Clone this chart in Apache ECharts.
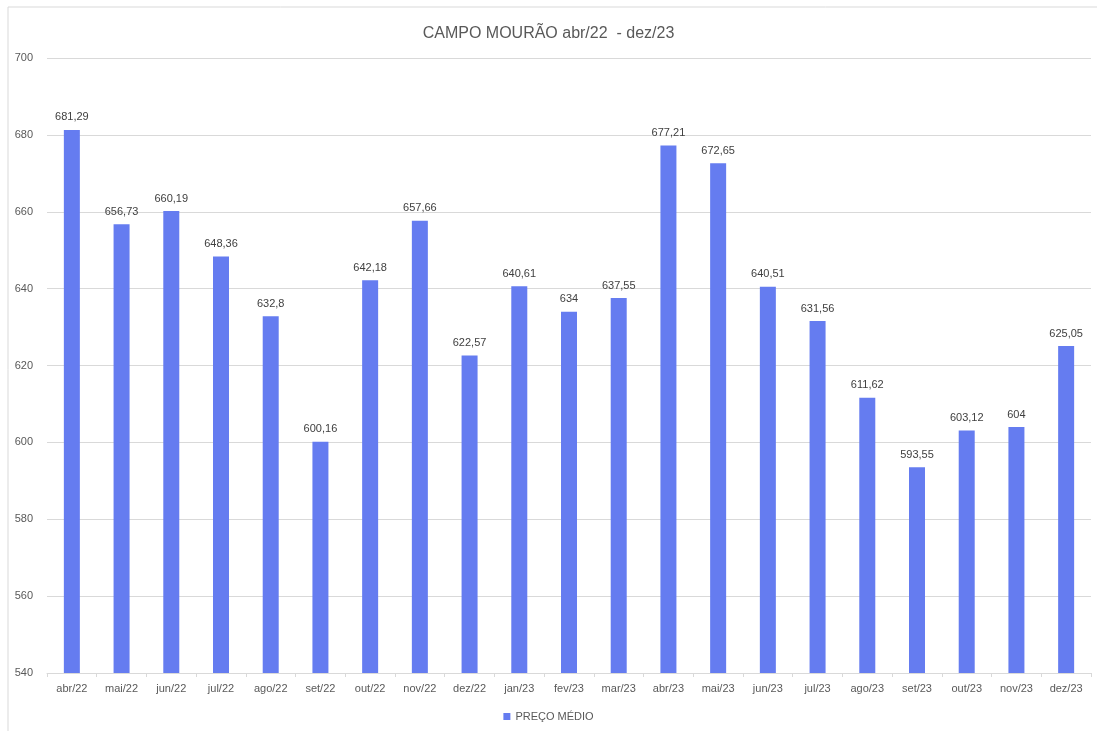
<!DOCTYPE html>
<html lang="pt">
<head>
    <meta charset="UTF-8">
    <title>CAMPO MOURÃO</title>
    <style>html,body{margin:0;padding:0;background:#fff}</style>
</head>
<body>
<div class="main" style="width: 1097px;height: 731px;"></div>
<script src="https://cdn.jsdelivr.net/npm/echarts@6/dist/echarts.min.js"></script>
<script>
    var meses = ["abr/22", "mai/22", "jun/22", "jul/22", "ago/22", "set/22", "out/22", "nov/22", "dez/22",
        "jan/23", "fev/23", "mar/23", "abr/23", "mai/23", "jun/23", "jul/23", "ago/23", "set/23", "out/23", "nov/23", "dez/23"];
    var precoMedio = [681.29, 656.73, 660.19, 648.36, 632.8, 600.16, 642.18, 657.66, 622.57,
        640.61, 634, 637.55, 677.21, 672.65, 640.51, 631.56, 611.62, 593.55, 603.12, 604, 625.05];

    var fonte = '"Liberation Sans Narrow", "Liberation Sans", Arial, sans-serif';
    var main = document.querySelector(".main");
    var mainEcharts = echarts.init(main);

    var option = {
        textStyle: { fontFamily: fonte },
        graphic: [{
            type: 'rect',
            shape: { x: 8, y: 7, width: 1100, height: 740 },
            style: { fill: 'none', stroke: '#d9d9d9', lineWidth: 1 },
            silent: true
        }],
        title: {
            text: 'CAMPO MOURÃO abr/22  - dez/23',
            left: 'center',
            top: 21,
            textStyle: { fontFamily: fonte, fontSize: 16, fontWeight: 'normal', color: '#595959' }
        },
        legend: {
            bottom: 4,
            left: 'center',
            itemWidth: 7,
            itemHeight: 7,
            itemGap: 3,
            icon: 'rect',
            textStyle: { fontFamily: fonte, fontSize: 11, color: '#595959' },
            data: ['PREÇO MÉDIO']
        },
        grid: { left: 47, right: 6, top: 58, bottom: 58, containLabel: false },
        xAxis: {
            type: 'category',
            data: meses,
            axisLine: { lineStyle: { color: '#d9d9d9' } },
            axisTick: { show: true, alignWithLabel: false, length: 4, lineStyle: { color: '#d9d9d9' } },
            axisLabel: { fontFamily: fonte, fontSize: 11, color: '#595959', margin: 10, interval: 0 }
        },
        yAxis: {
            type: 'value',
            min: 540,
            max: 700,
            interval: 20,
            axisLine: { show: false },
            axisTick: { show: false },
            axisLabel: { fontFamily: fonte, fontSize: 11, color: '#595959', margin: 14 },
            splitLine: { lineStyle: { color: '#d9d9d9' } }
        },
        series: [{
            name: 'PREÇO MÉDIO',
            type: 'bar',
            data: precoMedio,
            barWidth: 16,
            itemStyle: { color: '#657cf0' },
            label: {
                show: true,
                position: 'top',
                distance: 7,
                fontFamily: fonte,
                fontSize: 11,
                color: '#404040',
                formatter: function (p) { return String(p.value).replace('.', ','); }
            }
        }]
    };

    mainEcharts.setOption(option);
</script>
</body>
</html>
